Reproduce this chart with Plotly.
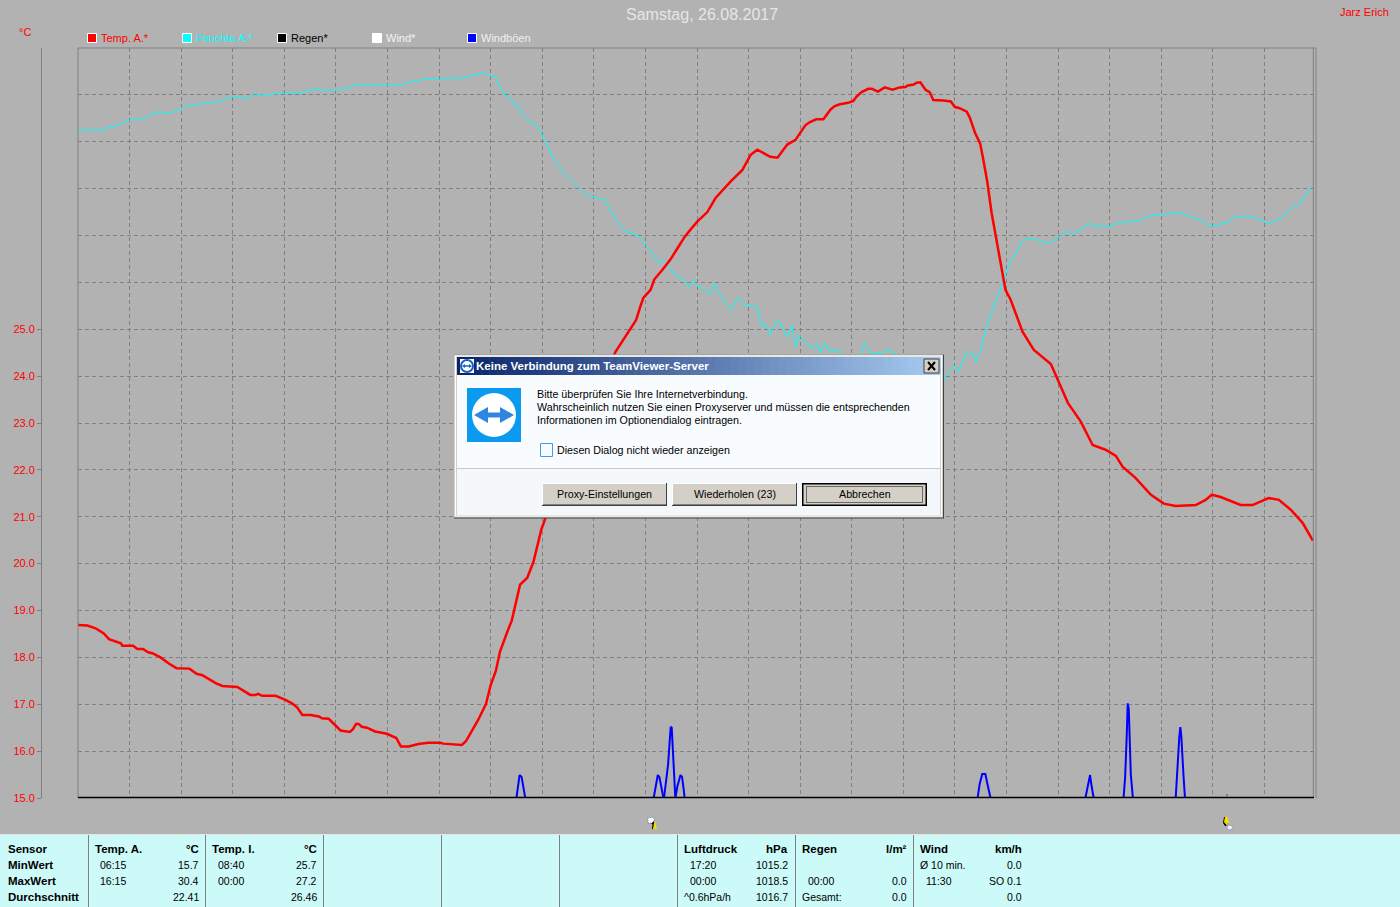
import plotly.graph_objects as go

W, H = 1400, 907

# ---- data (hours of day / value on the chart's scale) ----
temp_hours = [0,.18,.34,.50,.60,.83,.86,1.07,1.15,1.26,1.36,1.44,1.60,1.76,1.91,2.16,2.30,2.41,2.67,2.80,3.09,3.22,3.34,3.44,3.49,3.57,3.83,3.99,4.15,4.25,4.35,4.51,4.67,4.73,4.86,5.09,5.27,5.33,5.39,5.44,5.5,5.6,5.76,5.99,6.17,6.26,6.41,6.60,6.79,7.02,7.08,7.44,7.52,7.63,7.76,7.91,8.0,8.1,8.18,8.31,8.41,8.5,8.57,8.71,8.83,8.98,9.12,10.42,10.82,10.9,10.96,11.1,11.17,11.33,11.48,11.64,11.76,11.87,12.0,12.2,12.36,12.65,12.88,13.04,13.17,13.42,13.56,13.75,13.91,14.0,14.10,14.19,14.31,14.45,14.59,14.67,14.77,14.93,15.03,15.09,15.19,15.32,15.39,15.51,15.64,15.79,15.93,16.04,16.09,16.2,16.26,16.33,16.43,16.51,16.58,16.78,16.92,17.0,17.08,17.23,17.29,17.39,17.49,17.55,17.63,17.71,17.79,17.87,17.98,18.08,18.31,18.53,18.86,19.19,19.44,19.67,19.92,20.12,20.25,20.5,20.8,21.05,21.28,21.67,21.86,21.98,22.15,22.54,22.77,23.08,23.28,23.51,23.74,23.94]
temp_values = [18.69,18.68,18.62,18.51,18.39,18.30,18.25,18.25,18.18,18.18,18.11,18.09,18.0,17.87,17.77,17.76,17.65,17.62,17.45,17.39,17.37,17.28,17.20,17.20,17.22,17.18,17.18,17.11,17.02,16.93,16.77,16.77,16.74,16.70,16.69,16.44,16.41,16.47,16.58,16.58,16.52,16.50,16.42,16.37,16.28,16.10,16.10,16.15,16.18,16.18,16.16,16.13,16.21,16.42,16.67,17.01,17.41,17.71,18.12,18.51,18.79,19.22,19.55,19.70,20.04,20.72,21.15,24.52,25.2,25.48,25.67,25.84,26.06,26.27,26.48,26.76,26.97,27.12,27.29,27.5,27.8,28.15,28.4,28.72,28.83,28.68,28.66,28.94,29.04,29.19,29.35,29.42,29.48,29.48,29.69,29.76,29.80,29.83,29.87,29.96,30.06,30.13,30.13,30.07,30.16,30.11,30.16,30.17,30.20,30.22,30.26,30.27,30.11,30.06,29.89,29.88,29.86,29.74,29.72,29.64,29.51,29.19,28.96,28.62,28.13,27.49,26.99,26.50,25.84,25.63,24.95,24.56,24.26,23.43,23.03,22.53,22.43,22.30,22.07,21.83,21.47,21.28,21.23,21.25,21.36,21.47,21.42,21.25,21.25,21.40,21.36,21.15,20.87,20.49]

humidity_hours = [0,.5,.57,.73,.83,1.05,1.34,1.44,1.59,1.70,1.80,1.96,2.09,2.24,2.35,2.54,2.75,2.83,2.99,3.25,3.41,3.63,3.98,4.34,4.47,4.60,4.76,4.91,5.02,5.12,5.30,5.37,5.39,6.28,6.41,6.70,7.01,7.06,7.50,7.6,7.83,7.98,8.10,8.16,8.27,8.37,8.46,8.53,8.62,8.79,8.87,8.95,9.05,9.25,9.45,9.84,10.22,10.42,10.61,10.84,11,11.1,11.24,11.35,11.45,11.58,11.76,11.84,11.93,12.01,12.12,12.25,12.34,12.43,12.54,12.66,12.77,12.85,12.91,13.01,13.17,13.25,13.35,13.42,13.53,13.6,13.74,13.85,13.91,13.99,14.08,14.21,14.28,14.34,14.39,14.49,14.57,14.74,14.79,15.15,15.25,15.37,15.58,15.72,15.84,15.92,16.72,16.8,16.98,17.07,17.23,17.32,17.41,17.52,17.62,17.88,18.02,18.11,18.21,18.31,18.5,18.82,19.01,19.14,19.26,19.4,19.6,19.66,19.99,20.19,20.51,20.8,21.15,21.37,21.57,21.73,21.92,22.08,22.18,22.3,22.38,22.67,22.86,22.96,23.1,23.35,23.54,23.7,23.91]
humidity_values = [29.25,29.25,29.30,29.33,29.40,29.48,29.51,29.60,29.64,29.60,29.62,29.69,29.77,29.77,29.81,29.84,29.85,29.91,29.96,29.92,29.99,30.01,30.03,30.04,30.10,30.12,30.09,30.11,30.09,30.14,30.15,30.23,30.21,30.21,30.27,30.33,30.34,30.36,30.36,30.41,30.46,30.42,30.36,30.22,29.99,29.97,29.79,29.77,29.58,29.39,29.38,29.26,29.01,28.58,28.3,27.87,27.76,27.34,27.08,27.02,26.79,26.69,26.43,26.48,26.33,26.16,26.05,25.89,26.04,25.91,25.87,25.74,25.98,25.77,25.59,25.41,25.64,25.64,25.51,25.51,25.47,25.07,25.08,24.88,25.16,25.16,24.84,25.08,24.62,24.88,24.74,24.60,24.62,24.70,24.49,24.70,24.52,24.55,24.43,24.43,24.70,24.49,24.50,24.56,24.48,24.28,23.6,23.96,24.22,24.10,24.51,24.51,24.30,24.63,25.09,25.84,26.3,26.51,26.67,26.90,26.94,26.82,26.96,27.08,27.03,27.10,27.26,27.21,27.19,27.28,27.30,27.42,27.47,27.47,27.40,27.36,27.21,27.21,27.26,27.28,27.37,27.42,27.37,27.31,27.26,27.38,27.60,27.70,28.04]

gust_hours = [8.50,8.53,8.56,8.60,8.64,8.67,None,
              11.16,11.20,11.24,11.27,11.31,11.35,None,
              11.36,11.40,11.44,11.47,11.49,11.51,11.54,11.58,None,
              11.58,11.62,11.68,11.71,11.74,11.76,None,
              17.44,17.48,17.53,17.59,17.64,17.69,None,
              19.53,19.57,19.62,19.65,19.69,None,
              20.27,20.30,20.33,20.35,20.37,20.41,20.45,None,
              21.28,21.31,21.35,21.37,21.39,21.43,21.46]
gust_values = [15,15.25,15.49,15.45,15.2,15,None,
               15,15.25,15.49,15.45,15.2,15,None,
               15,15.35,15.72,16.2,16.52,16.5,15.8,15,None,
               15,15.25,15.49,15.45,15.2,15,None,
               15,15.3,15.51,15.51,15.25,15,None,
               15,15.25,15.49,15.25,15,None,
               15,15.45,16.3,17.02,16.9,15.5,15,None,
               15,15.7,16.3,16.51,16.3,15.5,15]

y_tick_values = [15, 16, 17, 18, 19, 20, 21, 22, 23, 24, 25]
y_tick_labels = ["15.0", "16.0", "17.0", "18.0", "19.0", "20.0", "21.0", "22.0", "23.0", "24.0", "25.0"]
hour_grid = list(range(1, 24))
value_grid = list(range(16, 31))

legend_names = ["Temp. A.*", "Feuchte A.*", "Regen*", "Wind*", "Windböen"]
legend_colors = ["#ff0000", "#00ffff", "#000000", "#ffffff", "#0000ff"]
legend_text_colors = ["#ff0000", "#00ffff", "#000000", "#f4f4f4", "#f0f0f0"]

row_labels = ["Sensor", "MinWert", "MaxWert", "Durchschnitt"]
stat_headers = ["Temp. A.", "Temp. I.", "Luftdruck", "Regen", "Wind"]
stat_units = ["°C", "°C", "hPa", "l/m²", "km/h"]
stat_times = [["06:15", "16:15", ""], ["08:40", "00:00", ""], ["17:20", "00:00", "^0.6hPa/h"],
              ["", "00:00", "Gesamt:"], ["Ø 10 min.", "11:30", ""]]
stat_values = [["15.7", "30.4", "22.41"], ["25.7", "27.2", "26.46"], ["1015.2", "1018.5", "1016.7"],
               ["", "0.0", "0.0"], ["0.0", "SO 0.1", "0.0"]]

# ---- layout geometry ----
PL, PR, PT, PB = 78, 1316, 48, 798
BG = "#b2b2b2"
GRID = "#808080"
FONT = "Liberation Sans"


def fx(x):
    return x / W


def fy(y):
    return 1 - y / H


shapes, notes = [], []


def rect(x0, y0, x1, y1, fill=None, line=None, lw=1, dash=None):
    s = dict(type="rect", xref="paper", yref="paper", x0=fx(x0), x1=fx(x1), y0=fy(y1), y1=fy(y0),
             layer="above", fillcolor=fill or "rgba(0,0,0,0)",
             line=dict(color=line or "rgba(0,0,0,0)", width=lw if line else 0))
    if dash:
        s["line"]["dash"] = dash
    shapes.append(s)


def seg(x0, y0, x1, y1, color, lw=1, dash=None):
    shapes.append(dict(type="line", xref="paper", yref="paper", x0=fx(x0), x1=fx(x1), y0=fy(y0), y1=fy(y1),
                       layer="above", line=dict(color=color, width=lw, dash=dash or "solid")))


def oval(x0, y0, x1, y1, fill, line=None, lw=0):
    shapes.append(dict(type="circle", xref="paper", yref="paper", x0=fx(x0), x1=fx(x1), y0=fy(y1), y1=fy(y0),
                       layer="above", fillcolor=fill, line=dict(color=line or fill, width=lw)))


def poly(points, fill):
    d = "M " + " L ".join(f"{fx(a):.5f},{fy(b):.5f}" for a, b in points) + " Z"
    shapes.append(dict(type="path", xref="paper", yref="paper", path=d, layer="above",
                       fillcolor=fill, line=dict(color=fill, width=0)))


def text(x, y, s, color="#000000", size=11, bold=False, anchor="left", family=FONT):
    if not s:
        return
    notes.append(dict(x=fx(x), y=fy(y), xref="paper", yref="paper", text=f"<b>{s}</b>" if bold else s,
                      showarrow=False, xanchor=anchor, yanchor="middle", borderpad=0, borderwidth=0,
                      font=dict(family=family, size=size, color=color)))


# chart frame
seg(PL, PT, PR, PT, GRID)
seg(PL, PT, PL, PB, GRID)
seg(PR, PT, PR, PB, GRID)
seg(1313.3, PT, 1313.3, PB, GRID)
seg(PL, 797.5, 1314, 797.5, "#000000", 1.5)
seg(1227, 794, 1227, 797, "#808080", 2)

# header texts
text(702, 15, "Samstag, 26.08.2017", "#e6e6e6", 16, anchor="center")
text(1389, 12, "Jarz Erich", "#ff0000", 11, anchor="right")
text(19, 32, "°C", "#ff0000", 11)

# legend
for i, (n, c, tc) in enumerate(zip(legend_names, legend_colors, legend_text_colors)):
    lx = 87 + i * 95
    rect(lx + .5, 33.5, lx + 9.5, 42.5, c, "#ffffff", 1)
    text(lx + 14, 38, n, tc, 11)

# sunrise / sunset markers
rect(648, 817.5, 654, 823, "#ffffff", "#7a7ab8", 1, "1px,1px")
poly([(652, 829), (652.5, 824), (651, 824), (654, 821), (654, 829)], "#000000")
poly([(653, 829), (654, 823), (655, 821.5), (657, 829)], "#f2e000")
poly([(1223, 823), (1224, 817), (1227, 817), (1228, 823), (1226, 826), (1225, 826)], "#000000")
poly([(1224, 822), (1225, 817), (1227.5, 817), (1229, 822), (1226.5, 825)], "#f2e000")
oval(1227, 825, 1232.5, 830, "#f4f4f4", "#9a9ac0", 1)

# stats panel
rect(0, 834, W, 835, "#e6e6e6")
rect(0, 835, W, H, "#ccfaf8")
for sx in (88.5, 205.5, 323.5, 441.5, 559.5, 677.5, 795.5, 913.5):
    seg(sx, 835, sx, H, "#808080")
rows_y = [849, 865, 881, 897]
for ry, lab in zip(rows_y, row_labels):
    text(8, ry, lab, bold=True, size=11.5)
col_left = [95, 212, 684, 802, 920]
col_time = [[100, 100, 100], [218, 218, 218], [690, 690, 684], [808, 808, 802], [920, 926, 920]]
col_right = [199, 317, 788, 907, 1022]
for i in range(5):
    text(col_left[i], rows_y[0], stat_headers[i], bold=True, size=11.5)
    text(col_right[i], rows_y[0], stat_units[i], bold=True, size=11.5, anchor="right")
    for j in range(3):
        text(col_time[i][j], rows_y[j + 1], stat_times[i][j], size=10.5)
        text(col_right[i], rows_y[j + 1], stat_values[i][j], size=10.5, anchor="right")

# dialog
rect(454, 354.5, 944, 518.5, "#404040")
rect(454, 354.5, 943, 517.5, "#d4d0c8")
rect(455, 355.5, 942, 516.5, "#ffffff")
rect(456, 356.5, 941, 515.5, "#d4d0c8")
rect(457, 375, 940, 468, "#f8fcff")
rect(457, 468, 940, 515, "#f5f8fb")
seg(457, 468.5, 940, 468.5, "#c8c8c8")
steps = 60
c0, c1 = (10, 36, 106), (166, 202, 240)
for i in range(steps):
    t = i / (steps - 1)
    col = "rgb(%d,%d,%d)" % tuple(round(a + (b - a) * t) for a, b in zip(c0, c1))
    rect(457 + 483.5 * i / steps, 357, 457 + 483.5 * (i + 1) / steps + .5, 375, col)
text(476, 366, "Keine Verbindung zum TeamViewer-Server", "#ffffff", 11.5, bold=True)
# title icon
rect(460, 359, 474, 373, "#ffffff")
oval(460, 359, 474, 373, "#1a5fc0")
oval(462, 361, 472, 371, "#ffffff")
poly([(462, 366), (465, 364), (465, 365.2), (469, 365.2), (469, 364), (472, 366), (469, 368), (469, 366.8), (465, 366.8), (465, 368)], "#1a5fc0")
# close button
rect(924, 359, 939, 373, "#d4d0c8", "#404040", 1)
seg(928, 362, 935, 370, "#000000", 2)
seg(935, 362, 928, 370, "#000000", 2)
# big icon
rect(467, 388, 521, 442, "#0a9bf0")
oval(472, 393, 516, 437, "#ffffff")
poly([(474, 415), (488, 407), (488, 412.5), (500, 412.5), (500, 407), (514, 415), (500, 423), (500, 417.5), (488, 417.5), (488, 423)], "#2f86e0")
# message
text(537, 394, "Bitte überprüfen Sie Ihre Internetverbindung.", size=10.7)
text(537, 407, "Wahrscheinlich nutzen Sie einen Proxyserver und müssen die entsprechenden", size=10.7)
text(537, 420, "Informationen im Optionendialog eintragen.", size=10.7)
rect(540.5, 443.5, 552.5, 456.5, "#f8fcff", "#3f9af0", 1)
text(557, 450, "Diesen Dialog nicht wieder anzeigen", size=10.7)
# buttons
for bx0, bx1, lab, dflt in ((542, 667, "Proxy-Einstellungen", False), (672, 797, "Wiederholen (23)", False), (802, 927, "Abbrechen", True)):
    rect(bx0, 483, bx1, 506, "#404040" if not dflt else "#000000")
    rect(bx0, 483, bx1 - 1, 505, "#ffffff" if not dflt else "#000000")
    rect(bx0 + 1, 484, bx1 - 1, 505, "#d4d0c8")
    rect(bx0 + 1, 504, bx1 - 1, 505, "#808080")
    if dflt:
        rect(bx0 + 1, 484, bx1 - 1, 505, "#d4d0c8", "#000000", 1)
        rect(bx0 + 4.5, 486.5, bx1 - 4.5, 502.5, None, "#000000", 1, "1px,1px")
    text((bx0 + bx1) / 2, 494, lab, size=10.7, anchor="center")

fig = go.Figure()
fig.add_trace(go.Scatter(x=gust_hours, y=gust_values, name="Windböen", mode="lines", connectgaps=False,
                         line=dict(color="#0000ff", width=2)))
fig.add_trace(go.Scatter(x=humidity_hours, y=humidity_values, name="Feuchte A.", mode="lines",
                         line=dict(color="#00ffff", width=1)))
fig.add_trace(go.Scatter(x=temp_hours, y=temp_values, name="Temp. A.", mode="lines",
                         line=dict(color="#ff0000", width=2.5)))
# carrier for the separate scale axis at the far left
fig.add_trace(go.Scatter(x=[0], y=[15], yaxis="y2", mode="lines", showlegend=False, hoverinfo="skip",
                         line=dict(width=0, color=BG)))

ydom = [fy(PB), fy(PT)]
fig.update_layout(
    width=W, height=H, autosize=False, showlegend=False,
    margin=dict(l=0, r=0, t=0, b=0, pad=0, autoexpand=False),
    paper_bgcolor=BG, plot_bgcolor=BG,
    font=dict(family=FONT),
    xaxis=dict(domain=[fx(PL), fx(PR)], range=[0, 24], tickvals=hour_grid, showticklabels=False, ticks="",
               showgrid=True, gridcolor=GRID, gridwidth=1, griddash="4px,3px", zeroline=False, showline=False),
    yaxis=dict(domain=ydom, range=[15, 31], tickvals=value_grid, showticklabels=False, ticks="",
               showgrid=True, gridcolor=GRID, gridwidth=1, griddash="4px,3px", zeroline=False, showline=False),
    yaxis2=dict(overlaying="y", anchor="free", side="left", position=fx(41), range=[15, 31],
                tickvals=y_tick_values, ticktext=y_tick_labels, ticks="outside", ticklen=4, tickcolor=GRID,
                tickfont=dict(family=FONT, size=11, color="#ff0000"), showgrid=False, zeroline=False,
                showline=True, linecolor=GRID, linewidth=1),
    shapes=shapes, annotations=notes,
)
fig.write_html("out.html", config=dict(displayModeBar=False),
               post_script="document.body.style.margin='0';document.documentElement.style.overflow='hidden';")
